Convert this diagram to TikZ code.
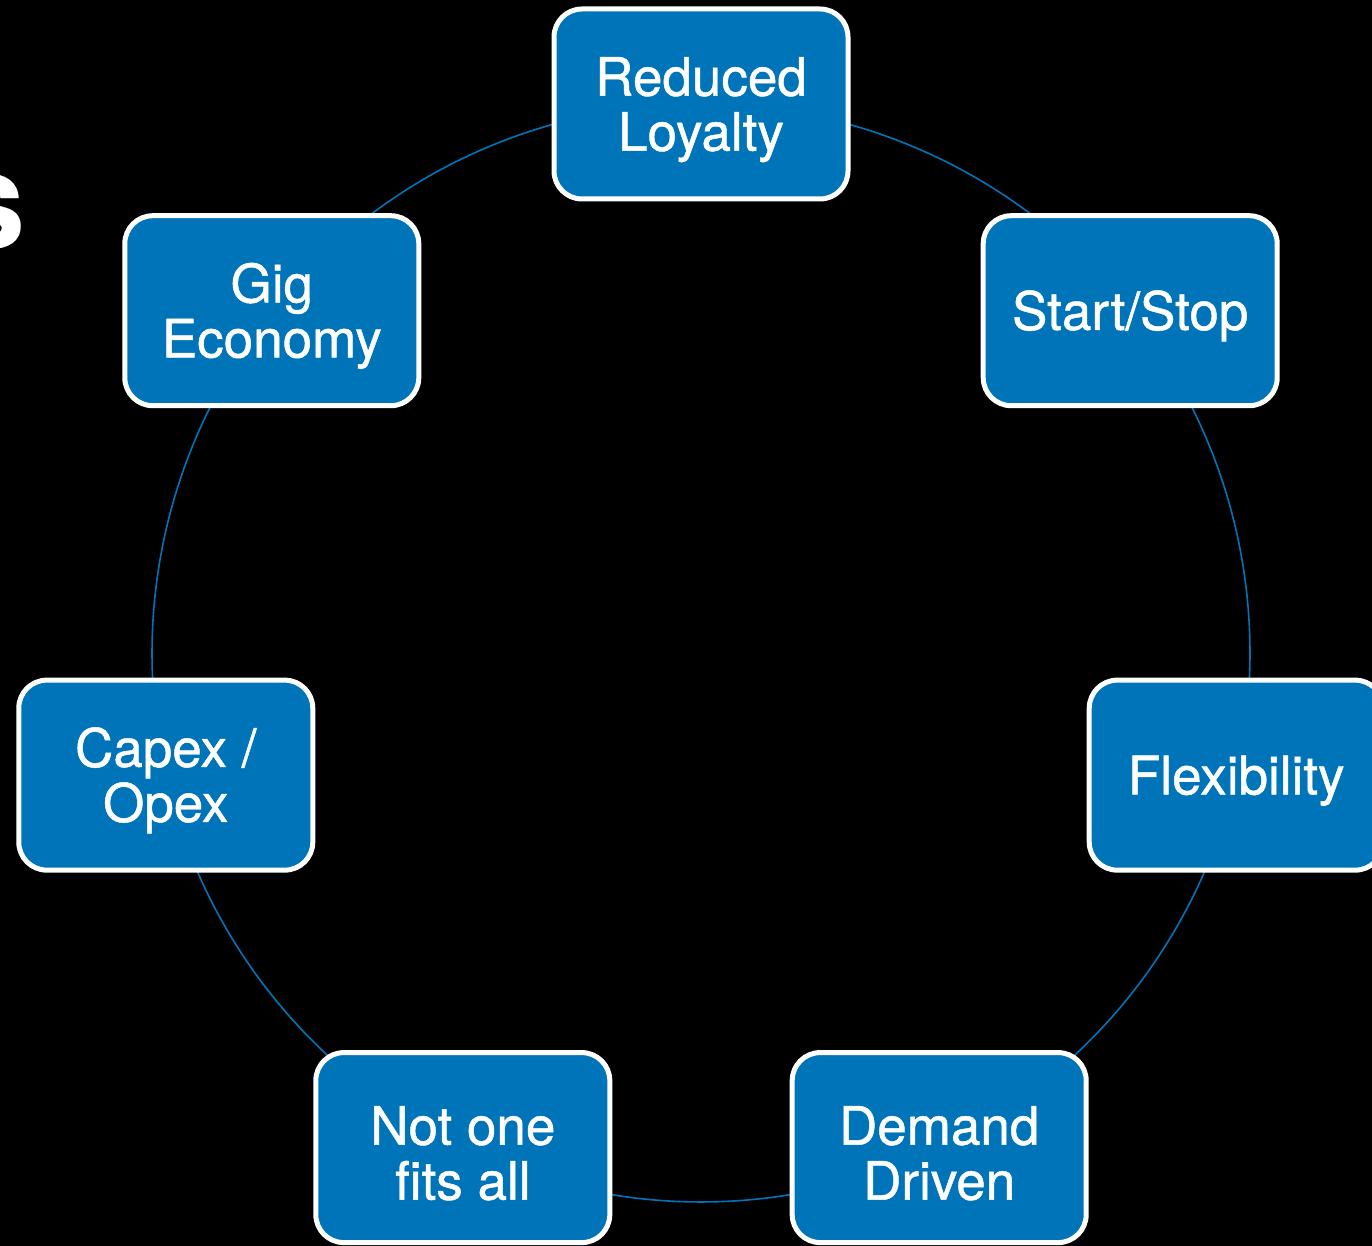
\documentclass[tikz,border=0pt]{standalone}
\usepackage{fontspec}
\setmainfont{TeX Gyre Heros}
\newfontfamily\stagefont{TeX Gyre Heros}[FakeBold=0.9]
\usetikzlibrary{backgrounds,calc}
\definecolor{boxblue}{HTML}{0074B8}
% extra room above the first line so the lettering sits on the box centre
\newcommand\toppad{\rule{0pt}{50pt}}
\tikzset{
  stage/.style={draw=white, line width=5pt, fill=boxblue, rounded corners=28pt,
    minimum width=294pt, minimum height=190pt, inner sep=0pt, text=white,
    align=center, font=\stagefont\fontsize{53}{55}\selectfont},
  link/.style={draw=boxblue, line width=1.6pt}
}
\begin{document}
\begin{tikzpicture}[x=1pt, y=1pt]
\useasboundingbox (0,0) rectangle (1372,1246);
\coordinate (c) at (701,593);
\def\R{549}
\node[stage] (n1) at ($(c)+(90:\R)$) {\toppad Reduced\\Loyalty};
\node[stage] (n2) at ($(c)+(38.571:\R)$) {\toppad Start/Stop};
\node[stage] (n3) at ($(c)+(-12.857:\R)$) {\toppad Flexibility};
\node[stage] (n4) at ($(c)+(-64.286:\R)$) {\toppad Demand\\Driven};
\node[stage] (n5) at ($(c)+(-115.714:\R)$) {\toppad Not one\\fits all};
\node[stage] (n6) at ($(c)+(-167.143:\R)$) {\toppad Capex /\\Opex};
\node[stage] (n7) at ($(c)+(141.429:\R)$) {\toppad Gig\\Economy};
% trailing letter of the title, cut by the page edge
\node[anchor=base east, inner sep=0pt, text=white, font=\fontsize{136}{136}\selectfont\bfseries] (ttl) at (26,997) {s};
\begin{pgfonlayer}{background}
  \fill[black] (0,0) rectangle (1372,1246);
  \draw[link] (n1.center) arc[start angle=90, delta angle=-51.429, radius=549pt];
  \draw[link] (n2.center) arc[start angle=38.571, delta angle=-51.429, radius=549pt];
  \draw[link] (n3.center) arc[start angle=-12.857, delta angle=-51.429, radius=549pt];
  \draw[link] (n4.center) arc[start angle=-64.286, delta angle=-51.429, radius=549pt];
  \draw[link] (n5.center) arc[start angle=-115.714, delta angle=-51.429, radius=549pt];
  \draw[link] (n6.center) arc[start angle=-167.143, delta angle=-51.429, radius=549pt];
  \draw[link] (n7.center) arc[start angle=141.429, delta angle=-51.429, radius=549pt];
\end{pgfonlayer}
\end{tikzpicture}
\end{document}
